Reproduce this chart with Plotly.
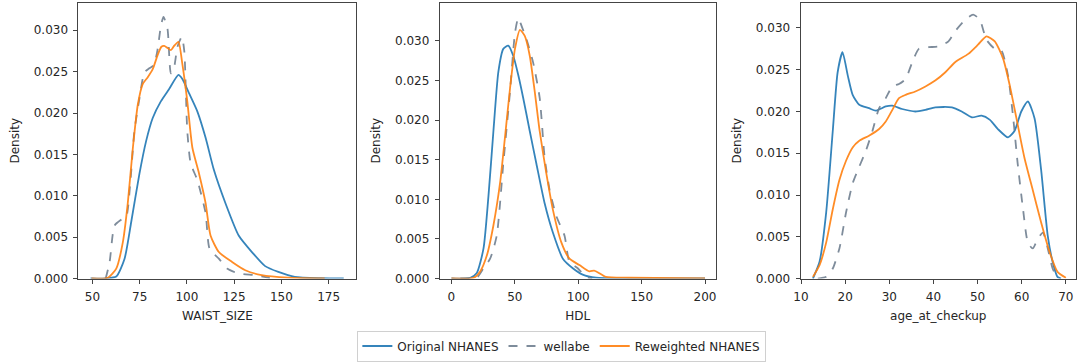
import plotly.graph_objects as go

# ---------------- data ----------------
waist_orig_x = [49, 57, 62.6, 67, 70.5, 74.9, 78.4, 81.9, 86.2, 90.6, 95.5, 97.6, 101.1, 105.5, 109.9, 114.3, 120.4, 127.4, 134.4, 141.4, 148.4, 157.1, 171, 183]
waist_orig_y = [0, 0.00002, 0.00024, 0.0024, 0.0068, 0.0127, 0.0166, 0.0194, 0.0214, 0.0229, 0.0246, 0.0241, 0.0224, 0.0202, 0.0170, 0.0131, 0.0091, 0.0052, 0.0032, 0.0015, 0.0008, 0.0002, 0.00004, 0]

waist_well_x = [57, 59.1, 61.7, 65.2, 67.9, 70, 72.2, 74.9, 77.5, 80.1, 82.5, 84.5, 86.2, 87.6, 89.7, 91.5, 93.2, 95, 97.3, 98.6, 100.2, 102, 105.5, 109.9, 112, 116.9, 121.3, 127.4, 136.1, 143.1, 145]
waist_well_y = [0, 0.002, 0.0064, 0.0071, 0.0075, 0.0115, 0.0178, 0.0218, 0.0249, 0.0254, 0.0258, 0.0277, 0.0305, 0.0316, 0.0302, 0.0248, 0.0255, 0.0280, 0.0292, 0.0275, 0.0178, 0.0139, 0.0119, 0.0079, 0.0036, 0.0024, 0.0012, 0.0006, 0.0004, 0.0001, 0]

waist_rew_x = [49.5, 58.2, 62.6, 66.1, 68.7, 71.4, 74, 76.6, 79.2, 81.9, 84.5, 86.5, 88, 89.5, 91.5, 93.2, 95.5, 97.6, 100.2, 102.9, 106.4, 109.9, 112.5, 116.9, 123.9, 130.9, 139.6, 153.6, 172.9]
waist_rew_y = [0, 0.0001, 0.0012, 0.0044, 0.0091, 0.0158, 0.0210, 0.0235, 0.0243, 0.0253, 0.0270, 0.0280, 0.0281, 0.0279, 0.0276, 0.0281, 0.0286, 0.0259, 0.0214, 0.0158, 0.0127, 0.0091, 0.0052, 0.0032, 0.0020, 0.0010, 0.0004, 0.0001, 0]

hdl_orig_x = [0, 14.9, 20, 25.3, 29.2, 33.1, 37, 40.9, 44.8, 48.8, 52.7, 56.6, 61.8, 67, 73.5, 80, 87.9, 95.7, 103.5, 114, 140, 200]
hdl_orig_y = [0, 0.0001, 0.0007, 0.0038, 0.0104, 0.0186, 0.0261, 0.0290, 0.0294, 0.0281, 0.0257, 0.0228, 0.0186, 0.0145, 0.0095, 0.0058, 0.0025, 0.0013, 0.0005, 0.0001, 0.00002, 0]

hdl_well_x = [7, 20, 25.3, 30.5, 35.7, 40.9, 46.2, 50.1, 52.7, 55.3, 59.2, 64.4, 69.6, 73.5, 77.4, 82.7, 89.2, 93.1, 99.6, 106.1, 111]
hdl_well_y = [0, 0.0001, 0.0013, 0.0025, 0.0054, 0.0145, 0.0236, 0.0310, 0.0329, 0.0319, 0.0302, 0.0273, 0.0228, 0.0153, 0.0112, 0.0079, 0.0054, 0.0021, 0.0013, 0.0002, 0]

hdl_rew_x = [0, 17.5, 22.7, 27.9, 33.1, 38.3, 42.2, 46.2, 50.1, 54, 57.9, 61.8, 65.7, 69.6, 74.8, 80, 86.6, 93.1, 100.9, 108.7, 112.5, 115.3, 121.8, 140, 200]
hdl_rew_y = [0, 0.0001, 0.0009, 0.0029, 0.0067, 0.0120, 0.0178, 0.0240, 0.0290, 0.0314, 0.0306, 0.0281, 0.0236, 0.0186, 0.0133, 0.0087, 0.0046, 0.0025, 0.0017, 0.0009, 0.0010, 0.0008, 0.0002, 0.0001, 0]

age_orig_x = [12.7, 14.2, 15.7, 17.2, 18.3, 19.4, 20.6, 21.7, 23.2, 25.4, 26.9, 29.2, 30.7, 32.9, 35.9, 38.2, 40.4, 44.2, 46.4, 48.7, 50.9, 52.8, 54.6, 56.9, 58.4, 59.9, 61.4, 62.9, 64.4, 65.9, 67, 68.1, 68.9]
age_orig_y = [0, 0.002, 0.0079, 0.0177, 0.0247, 0.0271, 0.0243, 0.0220, 0.0208, 0.0204, 0.0201, 0.0206, 0.0207, 0.0203, 0.0200, 0.0202, 0.0205, 0.0205, 0.0200, 0.0193, 0.0195, 0.0190, 0.0179, 0.0169, 0.0177, 0.0200, 0.0212, 0.0192, 0.0130, 0.0051, 0.002, 0.0002, 0]

age_well_x = [13.8, 15.7, 17.2, 18.7, 20.2, 21.7, 23.2, 24.7, 26.2, 27.7, 29.2, 30.7, 32.2, 33.7, 35.2, 36.7, 38.9, 41.2, 43.4, 44.9, 47.2, 49, 50.5, 52, 53.9, 55.4, 56.9, 58, 59.1, 60.3, 61.4, 62.5, 63.6, 64.8, 65.9, 67, 68.1]
age_well_y = [0, 0.0002, 0.0012, 0.0036, 0.0079, 0.0114, 0.0134, 0.0153, 0.0177, 0.0204, 0.0216, 0.0230, 0.0233, 0.0239, 0.0259, 0.0275, 0.0277, 0.0278, 0.0284, 0.0296, 0.0310, 0.0316, 0.0310, 0.0286, 0.0275, 0.0273, 0.0243, 0.0196, 0.0137, 0.0083, 0.0043, 0.0036, 0.0047, 0.0055, 0.0036, 0.0012, 0.00004]

age_rew_x = [12.7, 14.2, 15.7, 17.2, 18.7, 20.2, 21.7, 23.2, 25.4, 27.7, 29.2, 30.7, 32.2, 33.7, 35.9, 38.2, 40.4, 42.7, 44.9, 47.9, 50.1, 52, 53.9, 55.8, 57.3, 58.8, 60.6, 62.5, 64.4, 66.3, 68.1, 70]
age_rew_y = [0.0002, 0.0016, 0.0043, 0.0083, 0.0118, 0.0141, 0.0157, 0.0165, 0.0171, 0.0179, 0.0188, 0.0202, 0.0216, 0.0220, 0.0224, 0.0230, 0.0237, 0.0247, 0.0259, 0.0269, 0.0280, 0.0290, 0.0284, 0.0263, 0.0231, 0.0192, 0.0145, 0.0106, 0.0067, 0.0032, 0.0008, 0.0001]

x_labels = ["WAIST_SIZE", "HDL", "age_at_checkup"]
series_names = ["Original NHANES", "wellabe", "Reweighted NHANES"]
y_ticks = [0, 0.005, 0.010, 0.015, 0.020, 0.025, 0.030]
x_ticks = [[50, 75, 100, 125, 150, 175], [0, 50, 100, 150, 200], [10, 20, 30, 40, 50, 60, 70]]

# ---------------- styling ----------------
BLUE = "rgba(31,119,180,0.9)"
GRAY = "rgba(112,128,144,0.9)"
ORANGE = "rgba(255,127,14,0.9)"
FONT = "DejaVu Sans"
TXT = "#262626"
SPINE = "#444444"
LW = 1.8

panels = [
    (waist_orig_x, waist_orig_y, waist_well_x, waist_well_y, waist_rew_x, waist_rew_y),
    (hdl_orig_x, hdl_orig_y, hdl_well_x, hdl_well_y, hdl_rew_x, hdl_rew_y),
    (age_orig_x, age_orig_y, age_well_x, age_well_y, age_rew_x, age_rew_y),
]
x_ranges = [[42.6, 189.7], [-9.2, 208.4], [9.9, 72.3]]
y_ranges = [[0, 0.0333], [0, 0.0348], [0, 0.0330]]
x_domains = [[72 / 1078, 352 / 1078], [436 / 1078, 714 / 1078], [799.5 / 1078, 1077 / 1078]]
y_domain = [1 - 284 / 363, 1 - 3 / 363]

fig = go.Figure()
for i, (ox, oy, wx, wy, rx, ry) in enumerate(panels):
    xa = "x" if i == 0 else f"x{i+1}"
    ya = "y" if i == 0 else f"y{i+1}"
    show = i == 0
    fig.add_trace(go.Scatter(x=ox, y=oy, mode="lines", name=series_names[0], legendgroup="o",
                             showlegend=show, xaxis=xa, yaxis=ya,
                             line=dict(color=BLUE, width=LW, shape="spline", smoothing=0.6)))
    fig.add_trace(go.Scatter(x=wx, y=wy, mode="lines", name=series_names[1], legendgroup="w",
                             showlegend=show, xaxis=xa, yaxis=ya,
                             line=dict(color=GRAY, width=LW, dash="dash", shape="spline", smoothing=0.6)))
    fig.add_trace(go.Scatter(x=rx, y=ry, mode="lines", name=series_names[2], legendgroup="r",
                             showlegend=show, xaxis=xa, yaxis=ya,
                             line=dict(color=ORANGE, width=LW, shape="spline", smoothing=0.6)))

axis_common = dict(showline=True, linecolor=SPINE, linewidth=1, mirror=True, showgrid=False,
                   zeroline=False, ticks="outside", ticklen=4, tickcolor=SPINE, tickwidth=1,
                   tickfont=dict(family=FONT, size=12, color=TXT))
layout = dict(width=1078, height=363, margin=dict(l=0, r=0, t=0, b=0),
              paper_bgcolor="white", plot_bgcolor="white",
              font=dict(family=FONT, size=12, color=TXT),
              legend=dict(orientation="h", x=559 / 1078, xanchor="center", y=1 - 337 / 363, yanchor="top",
                          bordercolor="#d0d0d0", borderwidth=1, font=dict(family=FONT, size=12, color=TXT),
                          itemwidth=30, tracegroupgap=0))
for i in range(3):
    xk = "xaxis" if i == 0 else f"xaxis{i+1}"
    yk = "yaxis" if i == 0 else f"yaxis{i+1}"
    ya = "y" if i == 0 else f"y{i+1}"
    xa = "x" if i == 0 else f"x{i+1}"
    layout[xk] = dict(axis_common, domain=x_domains[i], range=x_ranges[i], anchor=ya,
                      tickvals=x_ticks[i], ticklabelstandoff=3,
                      title=dict(text=x_labels[i], standoff=8, font=dict(family=FONT, size=12, color=TXT)))
    layout[yk] = dict(axis_common, domain=y_domain, range=y_ranges[i], anchor=xa,
                      tickvals=y_ticks, tickformat=".3f", ticklabelstandoff=3,
                      title=dict(text="Density", standoff=11, font=dict(family=FONT, size=12, color=TXT)))
fig.update_layout(**layout)
fig.write_html("out.html")
